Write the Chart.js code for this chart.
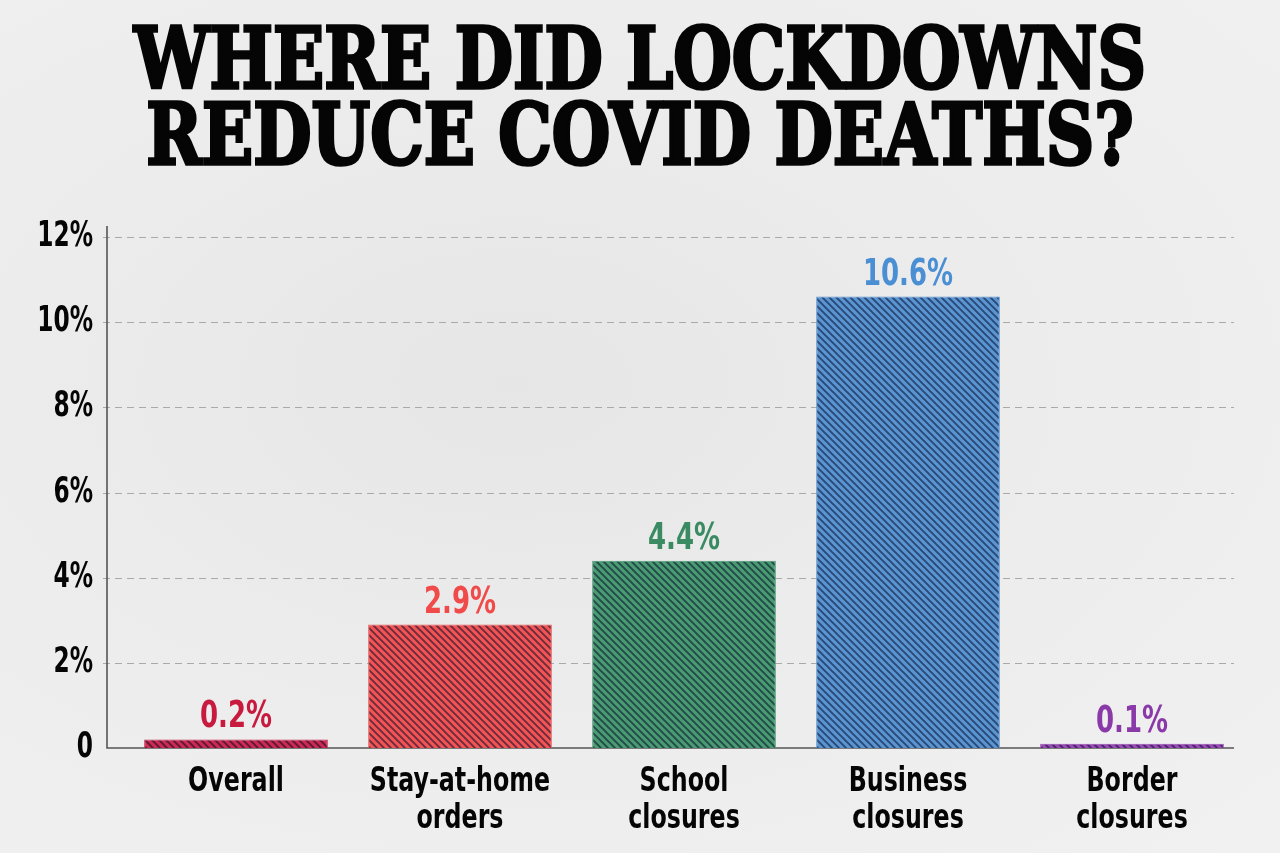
<!DOCTYPE html>
<html>
<head>
<meta charset="utf-8">
<script src="https://cdn.jsdelivr.net/npm/chart.js@4.4.1/dist/chart.umd.min.js"></script>
<style>
  html, body { margin: 0; padding: 0; }
  body {
    width: 1280px; height: 853px; overflow: hidden; position: relative;
    background: radial-gradient(ellipse at 40% 45%, #e6e6e6 0%, #ececec 45%, #f1f1f1 100%);
  }
  #title {
    position: absolute; left: 0; top: 21px; width: 1280px; margin: 0;
    text-align: center; color: #050505;
    font-family: "DejaVu Serif", serif;
    font-weight: 900;
    font-size: 84px; line-height: 76px;
    -webkit-text-stroke: 3.5px #050505;
    transform: scaleX(0.8); transform-origin: 640px 0;
  }
  #wrap { position: absolute; left: 0; top: 0; width: 1280px; height: 853px; }
</style>
</head>
<body>
<h1 id="title">WHERE DID LOCKDOWNS<br>REDUCE COVID DEATHS?</h1>
<div id="wrap"><canvas id="c" width="1280" height="853"></canvas></div>
<script>
const categories = [["Overall"], ["Stay-at-home", "orders"], ["School", "closures"], ["Business", "closures"], ["Border", "closures"]];
const values = [0.2, 2.9, 4.4, 10.6, 0.1];
const valueLabels = ["0.2%", "2.9%", "4.4%", "10.6%", "0.1%"];
const barColors = ["#cc2a50", "#f05454", "#4a9a72", "#5a95d2", "#9a48b5"];
const labelColors = ["#c8193f", "#f04a4a", "#3a8a62", "#4a8fd3", "#8a3aa8"];
const yTickValues = [0, 2, 4, 6, 8, 10, 12];
const yTickLabels = ["0", "2%", "4%", "6%", "8%", "10%", "12%"];

const FONT = "'DejaVu Sans Condensed', 'DejaVu Sans', sans-serif";

function hatch(color) {
  const s = 7;
  const p = document.createElement('canvas');
  p.width = s; p.height = s;
  const g = p.getContext('2d');
  g.fillStyle = color; g.fillRect(0, 0, s, s);
  g.strokeStyle = 'rgba(0,10,40,0.55)';
  g.lineWidth = 1.9;
  g.beginPath();
  g.moveTo(-1, -1); g.lineTo(s + 1, s + 1);
  g.moveTo(-2, s - 2); g.lineTo(2, s + 2);
  g.moveTo(s - 2, -2); g.lineTo(s + 2, 2);
  g.stroke();
  return g.createPattern(p, 'repeat');
}

// draw text narrower (condensed look) by scaling each fillText call horizontally
function withNarrowText(ctx, sx, fn) {
  const orig = ctx.fillText;
  ctx.fillText = function (t, x, y, mw) {
    this.save();
    this.translate(x, y);
    this.scale(sx, 1);
    if (mw === undefined) orig.call(this, t, 0, 0); else orig.call(this, t, 0, 0, mw / sx);
    this.restore();
  };
  try { fn(); } finally { ctx.fillText = orig; }
}

const framePlugin = {
  id: 'frame',
  beforeDraw(chart) {
    ['x', 'y'].forEach(id => {
      const sc = chart.scales[id];
      if (sc._narrowWrapped) return;
      const orig = sc.drawLabels.bind(sc);
      const sx = id === 'y' ? 0.74 : 0.8;
      sc.drawLabels = function (area) { withNarrowText(this.ctx, sx, () => orig(area)); };
      sc._narrowWrapped = true;
    });
  },
  beforeDatasetsDraw(chart) {
    const { ctx, chartArea, scales } = chart;
    const y = scales.y;
    const axisX = chartArea.left - 17;
    const rightX = chartArea.right - 10;
    ctx.save();
    ctx.strokeStyle = '#a9a9a9';
    ctx.lineWidth = 1;
    ctx.setLineDash([7, 5]);
    yTickValues.forEach(v => {
      if (v === 0) return;
      const py = Math.round(y.getPixelForValue(v)) + 0.5;
      ctx.beginPath(); ctx.moveTo(axisX - 4, py); ctx.lineTo(rightX, py); ctx.stroke();
    });
    ctx.setLineDash([]);
    ctx.strokeStyle = '#555';
    ctx.lineWidth = 1.6;
    const py0 = y.getPixelForValue(0);
    ctx.beginPath();
    ctx.moveTo(axisX, y.getPixelForValue(12) - 11);
    ctx.lineTo(axisX, py0);
    ctx.lineTo(rightX, py0);
    ctx.stroke();
    ctx.restore();
  },
  afterDatasetsDraw(chart) {
    const { ctx } = chart;
    const meta = chart.getDatasetMeta(0);
    ctx.save();
    ctx.font = "bold 37px " + FONT;
    ctx.textAlign = 'center';
    ctx.textBaseline = 'alphabetic';
    withNarrowText(ctx, 0.78, () => {
      meta.data.forEach((bar, i) => {
        ctx.fillStyle = labelColors[i];
        ctx.fillText(valueLabels[i], bar.x, bar.y - 12);
      });
    });
    ctx.restore();
  }
};

new Chart(document.getElementById('c'), {
  type: 'bar',
  data: {
    labels: categories,
    datasets: [{
      data: values,
      backgroundColor: barColors.map(hatch),
      borderColor: barColors,
      borderWidth: 1,
      barPercentage: 0.82,
      categoryPercentage: 1
    }]
  },
  options: {
    responsive: false,
    animation: false,
    events: [],
    layout: { padding: { top: 237, right: 36, bottom: 0, left: 0 } },
    plugins: { legend: { display: false }, tooltip: { enabled: false } },
    scales: {
      x: {
        afterFit(scale) { scale.height = 105; },
        grid: { display: false, drawTicks: false },
        border: { display: false },
        ticks: {
          color: '#050505',
          font: { family: FONT, size: 33, weight: 'bold', lineHeight: 1.12 },
          padding: 16,
          maxRotation: 0, autoSkip: false
        }
      },
      y: {
        min: 0, max: 12,
        afterFit(scale) { scale.width = 124; },
        afterBuildTicks(scale) { scale.ticks = yTickValues.map(v => ({ value: v })); },
        grid: { display: false, drawTicks: false },
        border: { display: false },
        ticks: {
          color: '#050505',
          font: { family: FONT, size: 35, weight: 'bold' },
          padding: 31,
          callback: (v) => yTickLabels[yTickValues.indexOf(v)]
        }
      }
    }
  },
  plugins: [framePlugin]
});
</script>
</body>
</html>
